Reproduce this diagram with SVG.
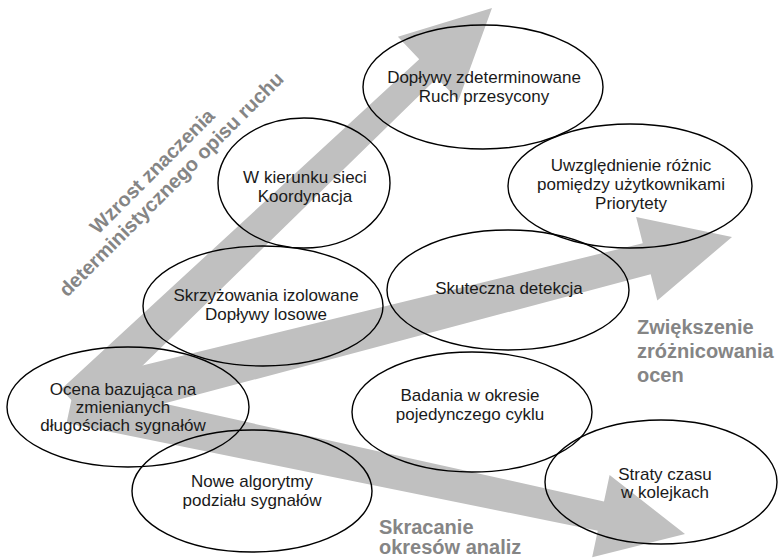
<svg xmlns="http://www.w3.org/2000/svg" width="779" height="558" viewBox="0 0 779 558">
  <style>
    .band { fill: #c0c0c0; stroke: none; }
    .oval { fill: none; stroke: #000; stroke-width: 1.4; }
    .lbl { font-family: "Liberation Sans", Arial, sans-serif; font-size: 17px; fill: #1a1a1a; text-anchor: middle; }
    .axis { font-family: "Liberation Sans", Arial, sans-serif; font-size: 20px; font-weight: bold; fill: #858585; }
  </style>

  <!-- three broad trend arrows fanning out from the lower-left -->
  <g id="connectors">
    <polygon class="band" transform="translate(492,8) rotate(-43.5)"
             points="0,0 -88,-44 -88,-13 -575,-20 -575,20 -88,13 -88,44"/>
    <polygon class="band" transform="translate(732,237) rotate(-14.3)"
             points="0,0 -88,-43 -88,-16 -680,-22 -680,22 -88,16 -88,43"/>
    <polygon class="band" transform="translate(685,534) rotate(12)"
             points="0,0 -86,-42 -86,-15 -628,-20 -628,20 -86,15 -86,42"/>
  </g>

  <!-- axis captions -->
  <g id="caption-up">
    <text class="axis" text-anchor="middle" transform="translate(157,176) rotate(-45)">Wzrost znaczenia</text>
    <text class="axis" text-anchor="middle" font-size="19.5" transform="translate(176,189) rotate(-45)">deterministycznego opisu ruchu</text>
  </g>
  <g id="caption-right">
    <text class="axis" x="637" y="334">Zwiększenie</text>
    <text class="axis" x="637" y="358">zróżnicowania</text>
    <text class="axis" x="637" y="382">ocen</text>
  </g>
  <g id="caption-down">
    <text class="axis" x="379" y="534">Skracanie</text>
    <text class="axis" x="379" y="554">okresów analiz</text>
  </g>

  <g id="node-doplywy">
    <ellipse class="oval" cx="483" cy="87" rx="120" ry="62"/>
    <text class="lbl" x="484" y="83">Dopływy zdeterminowane</text>
    <text class="lbl" x="484" y="102">Ruch przesycony</text>
  </g>

  <g id="node-kierunek">
    <ellipse class="oval" cx="304" cy="183" rx="86" ry="65"/>
    <text class="lbl" x="305" y="183">W kierunku sieci</text>
    <text class="lbl" x="305" y="202">Koordynacja</text>
  </g>

  <g id="node-uzytkownicy">
    <ellipse class="oval" cx="630" cy="186" rx="122" ry="62"/>
    <text class="lbl" x="631" y="171">Uwzględnienie różnic</text>
    <text class="lbl" x="631" y="190">pomiędzy użytkownikami</text>
    <text class="lbl" x="631" y="209">Priorytety</text>
  </g>

  <g id="node-skrzyzowania">
    <ellipse class="oval" cx="263" cy="306" rx="120" ry="60"/>
    <text class="lbl" x="266" y="301">Skrzyżowania izolowane</text>
    <text class="lbl" x="266" y="320">Dopływy losowe</text>
  </g>

  <g id="node-detekcja">
    <ellipse class="oval" cx="508" cy="290" rx="121" ry="60"/>
    <text class="lbl" x="509" y="294">Skuteczna detekcja</text>
  </g>

  <g id="node-ocena">
    <ellipse class="oval" cx="128" cy="407" rx="121" ry="60"/>
    <text class="lbl" x="123" y="395">Ocena bazująca na</text>
    <text class="lbl" x="123" y="413">zmienianych</text>
    <text class="lbl" x="123" y="431">długościach sygnałów</text>
  </g>

  <g id="node-badania">
    <ellipse class="oval" cx="472" cy="412" rx="120" ry="60"/>
    <text class="lbl" x="470" y="401">Badania w okresie</text>
    <text class="lbl" x="470" y="420">pojedynczego cyklu</text>
  </g>

  <g id="node-algorytmy">
    <ellipse class="oval" cx="252" cy="491" rx="120" ry="61"/>
    <text class="lbl" x="252" y="487">Nowe algorytmy</text>
    <text class="lbl" x="252" y="506">podziału sygnałów</text>
  </g>

  <g id="node-straty">
    <ellipse class="oval" cx="661" cy="482" rx="116" ry="62"/>
    <text class="lbl" x="665" y="480">Straty czasu</text>
    <text class="lbl" x="665" y="498">w kolejkach</text>
  </g>
</svg>
